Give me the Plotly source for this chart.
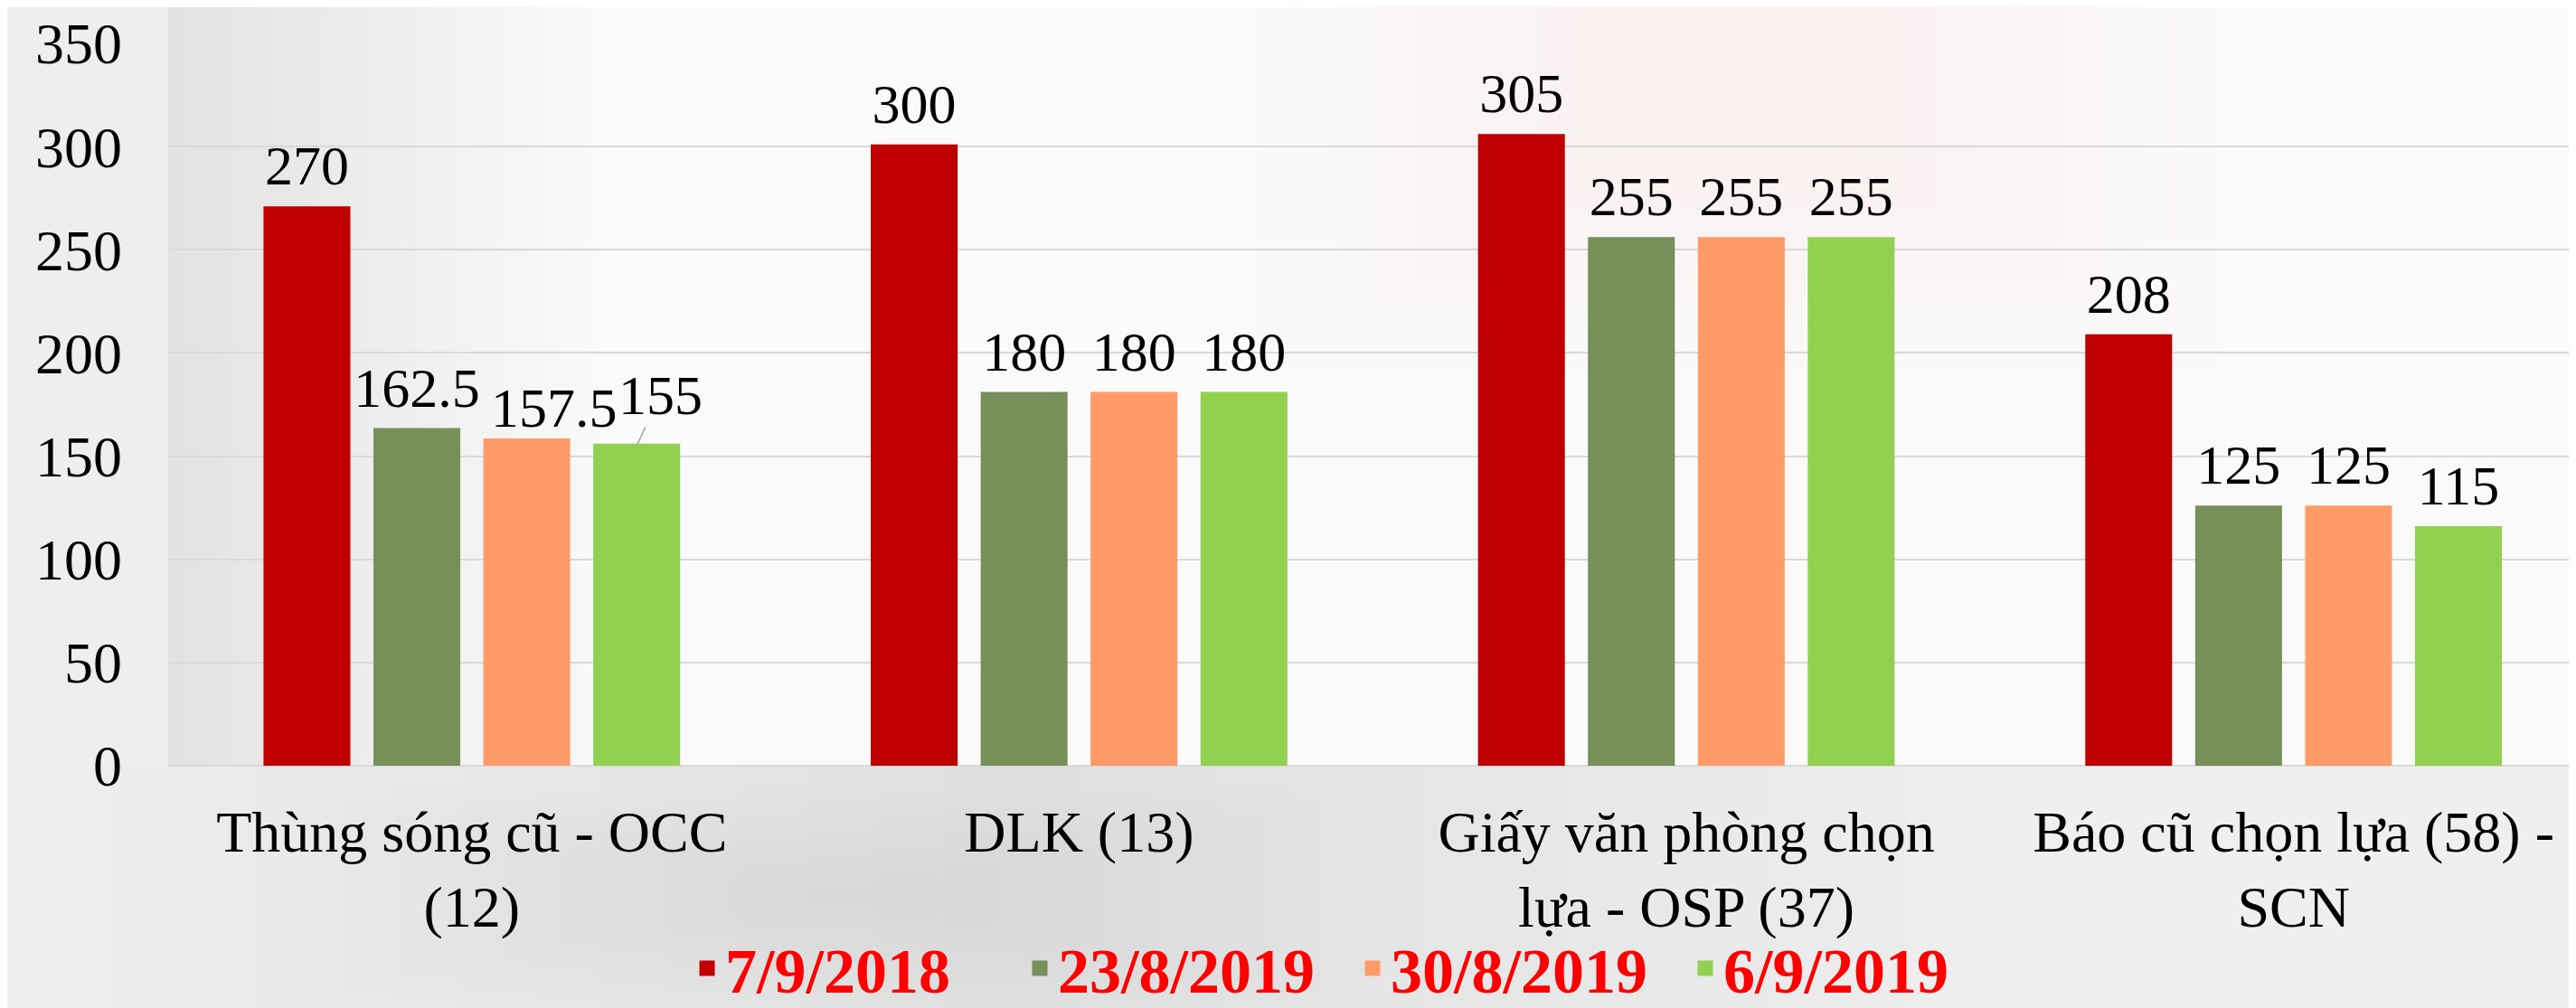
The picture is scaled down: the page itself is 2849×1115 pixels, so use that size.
import plotly.graph_objects as go

categories = ["Thùng sóng cũ - OCC (12)", "DLK (13)", "Giấy văn phòng chọn lựa - OSP (37)", "Báo cũ chọn lựa (58) - SCN"]
category_ticktext = ["Thùng sóng cũ - OCC<br>(12)", "DLK (13)", "Giấy văn phòng chọn<br>lựa - OSP (37)", "Báo cũ chọn lựa (58) -<br>SCN"]
series_names = ["7/9/2018", "23/8/2019", "30/8/2019", "6/9/2019"]
v_2018_09_07 = [270, 300, 305, 208]
v_2019_08_23 = [162.5, 180, 255, 125]
v_2019_08_30 = [157.5, 180, 255, 125]
v_2019_09_06 = [155, 180, 255, 115]
series_values = [v_2018_09_07, v_2019_08_23, v_2019_08_30, v_2019_09_06]
series_colors = ["#C00000", "#77905A", "#FF9B68", "#92D050"]
y_ticks = [0, 50, 100, 150, 200, 250, 300, 350]
# labels that the original chart moved sideways (series index, category index, extra px, leader line)
moved_labels = [(2, 0, 30, False), (3, 0, 26, True)]

W, H = 2849, 1115
ML, MT, MB = 178, 40, 276
FONT = "Liberation Serif, Times New Roman, serif"
LABEL_SIZE = 62
BARGAP = 0.276
X_RANGE = [-0.5, 3.477]

fig = go.Figure()
for j, (name, vals, col) in enumerate(zip(series_names, series_values, series_colors)):
    fig.add_trace(go.Bar(
        x=categories, y=vals, name=name, offsetgroup=str(j),
        marker=dict(color=col, line=dict(color=col, width=5)),
        hoverinfo="x+y+name",
    ))

# value labels: invisible markers grouped like the bars, text on top
for j, (name, vals) in enumerate(zip(series_names, series_values)):
    moved = {c for (s, c, _, _) in moved_labels if s == j}
    texts = ["" if i in moved else f"{v:g}" for i, v in enumerate(vals)]
    fig.add_trace(go.Scatter(
        x=categories, y=vals, mode="markers+text", offsetgroup=str(j),
        marker=dict(size=16, color="rgba(0,0,0,0)"),
        text=texts, textposition="top center",
        textfont=dict(family=FONT, size=LABEL_SIZE, color="#000000"),
        showlegend=False, hoverinfo="skip", cliponaxis=False,
    ))

# moved labels as annotations anchored to the data point
cat_px = (W - ML) / (X_RANGE[1] - X_RANGE[0])
slot_px = (1 - BARGAP) / len(series_names) * cat_px
annotations = []
for (s, c, extra, leader) in moved_labels:
    val = series_values[s][c]
    base_shift = (s - (len(series_names) - 1) / 2) * slot_px
    if leader:
        annotations.append(dict(
            x=categories[c], y=val, xref="x", yref="y", xshift=base_shift,
            text=f"{val:g}", showarrow=True, arrowhead=0, arrowwidth=1.5, arrowcolor="#A6A6A6",
            ax=extra, ay=-56, standoff=0,
            font=dict(family=FONT, size=LABEL_SIZE, color="#000000"),
        ))
    else:
        annotations.append(dict(
            x=categories[c], y=val, xref="x", yref="y", xshift=base_shift + extra, yshift=0,
            text=f"{val:g}", showarrow=False, yanchor="bottom",
            font=dict(family=FONT, size=LABEL_SIZE, color="#000000"),
        ))


def soft_blob(x0, x1, y0, y1, rgb, steps, op, shrink_x=True, shrink_y=True):
    out = []
    cx, cy = (x0 + x1) / 2, (y0 + y1) / 2
    for i in range(steps):
        f = 1 - i / steps
        hx = (x1 - x0) / 2 * (f if shrink_x else 1)
        hy = (y1 - y0) / 2 * (f if shrink_y else 1)
        out.append(dict(type="rect", xref="paper", yref="paper",
                        x0=cx - hx, x1=cx + hx, y0=cy - hy, y1=cy + hy,
                        fillcolor=f"rgba({rgb},{op})", line=dict(width=0), layer="below"))
    return out


shapes = []
shapes.append(dict(type="rect", xref="paper", yref="paper", x0=0, x1=1.01, y0=0, y1=1.06,
                   fillcolor="#FAFAFA", line=dict(width=0), layer="below"))
for i in range(24):
    shapes.append(dict(type="rect", xref="paper", yref="paper", x0=0, x1=0.006 + i * 0.0075,
                       y0=0, y1=1.06, fillcolor="rgba(0,0,0,0.0035)", line=dict(width=0), layer="below"))
shapes += soft_blob(0.45, 0.85, 0.55, 1.3, "200,120,120", 12, 0.006)
shapes += soft_blob(-0.05, 0.75, -0.38, 0.0, "0,0,0", 14, 0.005, shrink_y=False)
shapes += soft_blob(0.05, 0.5, -0.33, -0.03, "0,0,0", 10, 0.004)
shapes += soft_blob(0.72, 1.2, -0.38, 0.0, "255,255,255", 12, 0.06)

fig.update_layout(
    width=W, height=H,
    margin=dict(l=ML, r=0, t=MT, b=MB, pad=0, autoexpand=False),
    paper_bgcolor="#EEEEEE",
    plot_bgcolor="rgba(0,0,0,0)",
    barmode="group",
    scattermode="group",
    bargap=BARGAP,
    bargroupgap=0.251,
    scattergap=BARGAP,
    font=dict(family=FONT, size=64, color="#000000"),
    shapes=shapes,
    annotations=annotations,
    showlegend=True,
    legend=dict(
        orientation="h", xref="container", yref="container",
        x=1490 / W, xanchor="center", y=0, yanchor="bottom",
        font=dict(family=FONT, size=70, color="#FF0000", weight="bold"),
        bgcolor="rgba(0,0,0,0)", entrywidth=323, entrywidthmode="pixels",
        itemclick=False, itemdoubleclick=False,
    ),
    xaxis=dict(
        type="category", range=X_RANGE, automargin=False,
        tickmode="array", tickvals=categories, ticktext=category_ticktext,
        tickfont=dict(family=FONT, size=64, color="#000000"),
        showgrid=False, zeroline=False, showline=False, ticks="",
        ticklabelstandoff=30,
    ),
    yaxis=dict(
        range=[0, 350], tickmode="array", tickvals=y_ticks, automargin=False,
        tickfont=dict(family=FONT, size=64, color="#000000"),
        showgrid=True, gridcolor="#D9D9D9", gridwidth=2,
        zeroline=True, zerolinecolor="#D9D9D9", zerolinewidth=2,
        showline=False, ticks="", ticklabelstandoff=50,
    ),
)

fig.write_html("out.html")
